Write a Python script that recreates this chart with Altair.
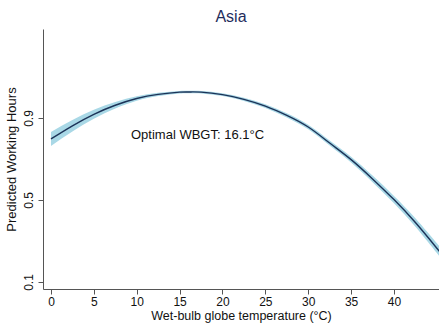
import altair as alt
import pandas as pd

temps = [0, 2.5, 5, 7.5, 10, 12.5, 15, 16.1, 17.5, 20, 22.5, 25, 27.5, 30,
         32.5, 35, 37.5, 40, 42.5, 45, 45.5]
hours = [0.798, 0.862, 0.918, 0.962, 0.995, 1.015, 1.026, 1.027, 1.026, 1.014,
         0.991, 0.958, 0.913, 0.856, 0.778, 0.697, 0.603, 0.502, 0.390, 0.265, 0.240]
lower = [0.764, 0.834, 0.896, 0.946, 0.984, 1.007, 1.020, 1.021, 1.020, 1.007,
         0.983, 0.949, 0.903, 0.845, 0.766, 0.683, 0.587, 0.484, 0.369, 0.241, 0.215]
upper = [0.832, 0.890, 0.940, 0.978, 1.006, 1.023, 1.032, 1.033, 1.032, 1.021,
         0.999, 0.967, 0.923, 0.867, 0.790, 0.711, 0.619, 0.520, 0.411, 0.289, 0.265]
y_ticks = [0.1, 0.5, 0.9]
x_ticks = [0, 5, 10, 15, 20, 25, 30, 35, 40]
annotation = "Optimal WBGT: 16.1°C"

df = pd.DataFrame({"t": temps, "h": hours, "lo": lower, "hi": upper})

FONT = "Liberation Sans"
xs = alt.Scale(domain=[-0.93, 45.25], nice=False, zero=False)
ys = alt.Scale(domain=[0.066, 1.334], nice=False, zero=False)

x_axis = alt.Axis(values=x_ticks, grid=False, title="Wet-bulb globe temperature (°C)",
                  labelFont=FONT, titleFont=FONT, labelFontSize=12, titleFontSize=12.5,
                  titleFontWeight="normal", labelColor="#111", titleColor="#111",
                  domainColor="#555", tickColor="#555", tickSize=5, labelPadding=2,
                  titlePadding=2, titleBaseline="top")
y_axis = alt.Axis(values=y_ticks, grid=False, title="Predicted Working Hours", format=".1f",
                  labelFont=FONT, titleFont=FONT, labelFontSize=12, titleFontSize=13,
                  titleFontWeight="normal", labelColor="#111", titleColor="#111",
                  domainColor="#555", tickColor="#555", tickSize=5, labelAngle=270,
                  labelAlign="center", labelBaseline="bottom", labelPadding=3,
                  titlePadding=4)

band = alt.Chart(df).mark_area(color="#a9d8e6", opacity=1, interpolate="natural",
                               clip=True).encode(
    x=alt.X("t:Q", scale=xs, axis=x_axis),
    y=alt.Y("lo:Q", scale=ys, axis=y_axis),
    y2="hi:Q",
)
line = alt.Chart(df).mark_line(color="#1c3358", strokeWidth=1.4, interpolate="natural",
                               clip=True).encode(
    x=alt.X("t:Q", scale=xs),
    y=alt.Y("h:Q", scale=ys),
)
text = alt.Chart(pd.DataFrame({"label": [annotation]})).mark_text(
    align="left", baseline="middle", font=FONT, fontSize=13, color="#111"
).encode(x=alt.value(88), y=alt.value(106), text="label:N")

chart = alt.layer(band, line, text).properties(
    width=396, height=260,
    padding={"left": 43, "top": 29, "right": 0, "bottom": 34},
    autosize=alt.AutoSizeParams(type="none"),
    title=alt.TitleParams("Asia", font=FONT, fontSize=16, fontWeight="normal",
                          color="#1f2d5c", anchor="middle", dx=-10, offset=4),
).configure_view(stroke=None)

chart.save("out.html", embed_options={"renderer": "svg", "actions": False})
